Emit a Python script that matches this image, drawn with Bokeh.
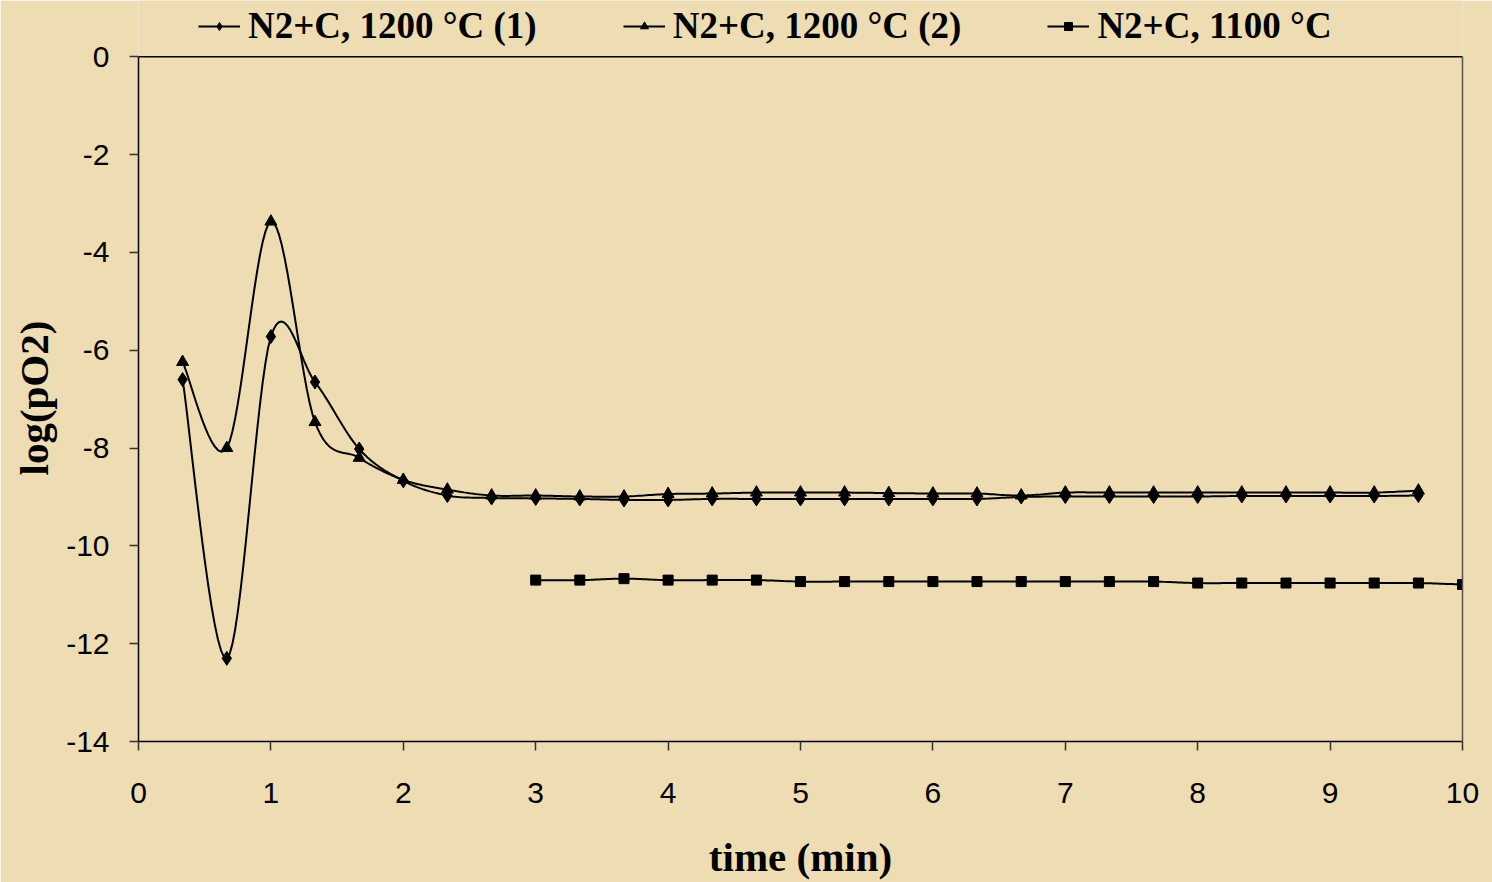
import numpy as np
from bokeh.plotting import figure
from bokeh.models import (Range1d, Legend, LegendItem, FixedTicker, PrintfTickFormatter,
                          LinearAxis, Span, Title)
from bokeh.embed import file_html
from bokeh.resources import INLINE

# ---- data ----
t1 = [0.333, 0.667, 1.0, 1.333, 1.667, 2.0, 2.333, 2.667, 3.0, 3.333, 3.667, 4.0, 4.333, 4.667,
      5.0, 5.333, 5.667, 6.0, 6.333, 6.667, 7.0, 7.333, 7.667, 8.0, 8.333, 8.667, 9.0, 9.333, 9.667]
s1 = [-6.6, -12.3, -5.72, -6.65, -8.02, -8.67, -8.97, -9.02, -9.03, -9.04, -9.06, -9.06, -9.04, -9.04,
      -9.04, -9.04, -9.04, -9.04, -9.04, -9.0, -8.99, -8.99, -8.99, -8.99, -8.98, -8.98, -8.98, -8.98, -8.97]
t2 = list(t1)
s2 = [-6.24, -8.0, -3.37, -7.47, -8.2, -8.65, -8.85, -8.97, -8.97, -8.99, -8.99, -8.94, -8.93, -8.91,
      -8.91, -8.91, -8.92, -8.93, -8.93, -8.97, -8.91, -8.91, -8.91, -8.91, -8.91, -8.91, -8.91, -8.91, -8.87]
t3 = [3.0, 3.333, 3.667, 4.0, 4.333, 4.667, 5.0, 5.333, 5.667, 6.0, 6.333, 6.667, 7.0, 7.333, 7.667,
      8.0, 8.333, 8.667, 9.0, 9.333, 9.667, 10.0]
s3 = [-10.7, -10.7, -10.67, -10.7, -10.7, -10.7, -10.73, -10.73, -10.73, -10.73, -10.73, -10.73, -10.73,
      -10.73, -10.73, -10.76, -10.76, -10.76, -10.76, -10.76, -10.76, -10.79]
names = ["N2+C, 1200 °C (1)", "N2+C, 1200 °C (2)", "N2+C, 1100 °C"]
markers = ["diamond", "triangle", "square"]
sizes = [14, 12, 10]
x_ticks = list(range(0, 11))
y_ticks = list(range(-14, 1, 2))
X_MIN, X_MAX, Y_MIN, Y_MAX = 0, 10, -14, 0

BG = "#EEDCB2"
W, H = 1492, 882
FRAME_TOP, FRAME_BOTTOM = 57, 750          # pixel rows of y=0 and y=-14
# the frame reaches to the top of the page; the legend sits in the strip above y=0
y_top = Y_MAX + (Y_MAX - Y_MIN) * FRAME_TOP / (FRAME_BOTTOM - FRAME_TOP)


def smooth(xs, ys, n=16):
    """Catmull-Rom curve through the points (like a spreadsheet 'smoothed line')."""
    P = np.column_stack([xs, ys]).astype(float)
    P = np.vstack([P[0], P, P[-1]])
    out = []
    for i in range(1, len(P) - 2):
        p0, p1, p2, p3 = P[i - 1], P[i], P[i + 1], P[i + 2]
        for t in np.linspace(0, 1, n, endpoint=False):
            t2_, t3_ = t * t, t * t * t
            pt = 0.5 * ((2 * p1) + (-p0 + p2) * t + (2 * p0 - 5 * p1 + 4 * p2 - p3) * t2_
                        + (-p0 + 3 * p1 - 3 * p2 + p3) * t3_)
            out.append(pt)
    out.append(P[-2])
    out = np.array(out)
    return out[:, 0], out[:, 1]


p = figure(width=W, height=H, output_backend="svg", toolbar_location=None,
           x_range=Range1d(X_MIN, X_MAX), y_range=Range1d(Y_MIN, y_top),
           min_border_left=138, min_border_right=30, min_border_top=0,
           min_border_bottom=H - FRAME_BOTTOM)
p.background_fill_color = BG
p.border_fill_color = BG
p.outline_line_color = None
p.grid.visible = False

items = []
series = [(t1, s1), (t2, s2), (t3, s3)]
for (xs, ys), mk, sz, nm in zip(series, markers, sizes, names):
    sx, sy = smooth(xs, ys)
    r_line = p.line(sx, sy, line_color="black", line_width=2)
    r_pts = p.scatter(xs, ys, marker=mk, size=sz, fill_color="black", line_color="black")
    items.append(LegendItem(label=nm, renderers=[r_line, r_pts]))

for ax in (p.xaxis[0], p.yaxis[0]):
    ax.axis_line_color = "black"
    ax.axis_line_width = 1.5
    ax.major_tick_line_color = "#333333"
    ax.major_tick_line_width = 1.5
    ax.major_tick_in = 0
    ax.major_tick_out = 9
    ax.minor_tick_line_color = None
    ax.major_label_text_font = "Liberation Sans"
    ax.major_label_text_font_size = "30px"
    ax.major_label_text_color = "black"
    ax.axis_label_text_font = "Liberation Serif"
    ax.axis_label_text_font_style = "bold"
    ax.axis_label_text_font_size = "41px"
    ax.axis_label_text_color = "black"
    ax.formatter = PrintfTickFormatter(format="%d")

p.yaxis.bounds = (Y_MIN, Y_MAX)
p.xaxis.ticker = FixedTicker(ticks=x_ticks)
p.yaxis.ticker = FixedTicker(ticks=y_ticks)
p.xaxis.axis_label = "time (min)"
p.xaxis.major_label_standoff = 32
p.yaxis.major_label_standoff = 20
p.xaxis.axis_label_standoff = 28

# y-axis title: starts at the bottom of the frame and is lifted to sit
# centred on the y=-14..0 part of the plot
ytitle = Title(text="log(pO2)", align="left", offset=266,
               text_font="Liberation Serif", text_font_style="bold",
               text_font_size="41px", text_color="black", standoff=14)
p.add_layout(ytitle, "left")

# plot-area border: top edge at y=0 and right edge at x=10
p.add_layout(Span(location=Y_MAX, dimension="width", line_color="black", line_width=1.5))
right = LinearAxis(bounds=(Y_MIN, Y_MAX), axis_line_color="#555555", axis_line_width=1.5,
                   major_tick_line_color=None, minor_tick_line_color=None,
                   major_label_text_font_size="0px", ticker=FixedTicker(ticks=[]))
p.add_layout(right, "right")

leg = Legend(items=items, orientation="horizontal", location=(60, 694),
             background_fill_alpha=0, border_line_alpha=0,
             label_text_font="Liberation Serif", label_text_font_style="bold",
             label_text_font_size="37px", label_text_color="black",
             glyph_width=42, glyph_height=20, label_standoff=8, spacing=86,
             padding=0, margin=0)
p.add_layout(leg, "center")

html = file_html(p, INLINE)
html = html.replace("<body>", '<body style="background:%s;">' % BG, 1)
open("out.html", "w").write(html)
